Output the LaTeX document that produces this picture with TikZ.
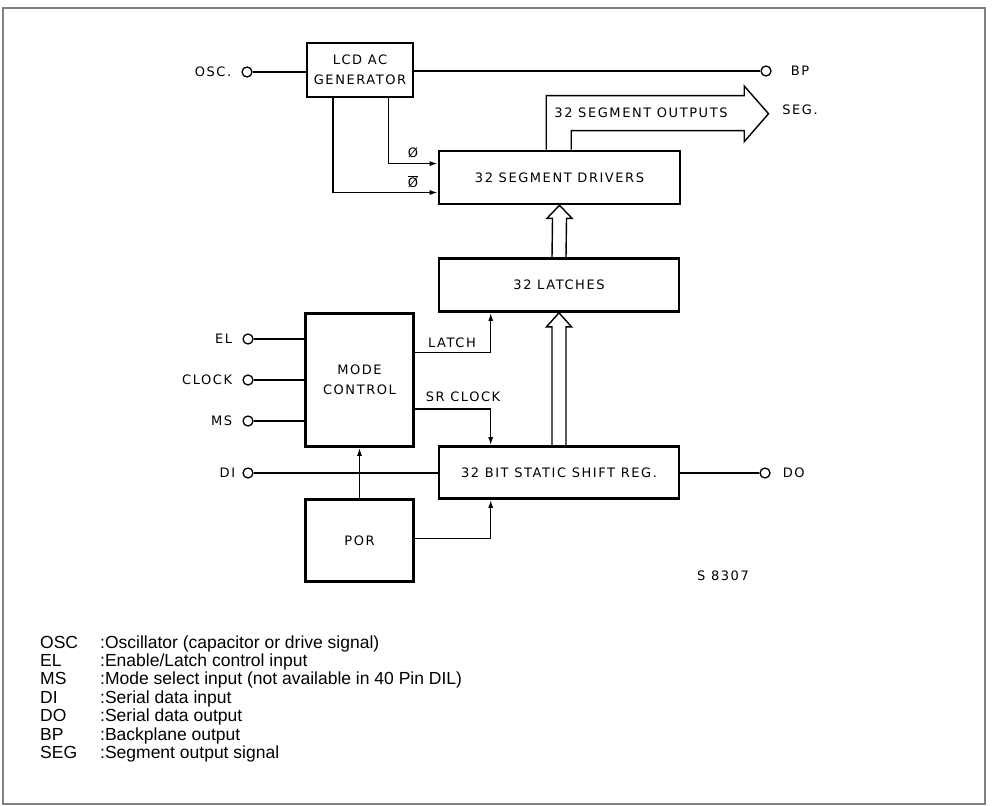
\documentclass[tikz,border=0pt]{standalone}
\usepackage{fontspec}
\setmainfont{Liberation Sans}
\newfontfamily\drawfont[LetterSpace=12]{DejaVu Sans}
\usetikzlibrary{positioning,calc,arrows.meta}
\newcommand\drawlbl{\drawfont\fontsize{13}{20}\selectfont}

\begin{document}
\begin{tikzpicture}[x=1pt, y=-1pt, >={Latex[length=8pt,width=5pt]}]
    \tikzset{
        blk/.style={draw, rectangle, line width=2.6pt, align=center, font=\drawlbl, inner sep=0pt},
        term/.style={draw, circle, line width=1.3pt, minimum size=10pt, inner sep=0pt, fill=white},
        lbl/.style={font=\drawlbl, inner sep=0pt},
        line/.style={draw, line width=1.4pt},
        sig/.style={draw, ->, line width=1.4pt},
        bus/.style={draw, line width=1.4pt, line join=miter},
        legend/.style={font=\fontsize{17.5}{18.4}\selectfont, inner sep=0pt, align=left},
        frame/.style={draw=black!50, line width=1.3pt}
    }
    \useasboundingbox (0,0) rectangle (992,805);
    \path[frame] (3,8) rectangle (985,804);

    % Blocks
    \node[blk, minimum width=106pt, minimum height=54pt] (lcd) at (360,70) {LCD AC\\GENERATOR};
    \node[blk, minimum width=241pt, minimum height=53pt] (drv) at (559.5,177.5) {32 SEGMENT DRIVERS};
    \node[blk, minimum width=240pt, minimum height=53pt] (lat) at (559,285) {32 LATCHES};
    \node[blk, minimum width=240pt, minimum height=52pt] (sr) at (559,472.5) {32 BIT STATIC SHIFT REG.};
    \node[blk, minimum width=108pt, minimum height=133pt] (mode) at (359.5,380) {MODE\\CONTROL};
    \node[blk, minimum width=108pt, minimum height=82pt] (por) at (359.5,540.5) {POR};

    % Pins
    \node[term] (osc) at (247,72) {};
    \node[term] (bp) at (766,71) {};
    \node[term] (el) at (248,339) {};
    \node[term] (clk) at (248,380) {};
    \node[term] (ms) at (248,421) {};
    \node[term] (din) at (248,473) {};
    \node[term] (dout) at (765,473) {};
    \node[lbl, left=10pt of osc] (osclbl) {OSC.};
    \node[lbl, right=19pt of bp] (bplbl) {BP};
    \node[lbl, left=10pt of el] (ellbl) {EL};
    \node[lbl, left=10pt of clk] (clklbl) {CLOCK};
    \node[lbl, left=10pt of ms] (mslbl) {MS};
    \node[lbl, left=7pt of din] (dinlbl) {DI};
    \node[lbl, right=12pt of dout] (doutlbl) {DO};

    % Pin lines
    \path[line] (osc) -- (osc -| lcd.west);
    \path[line] (lcd.east |- bp) -- (bp);
    \path[line] (el) -- (el -| mode.west);
    \path[line] (clk) -- (clk -| mode.west);
    \path[line] (ms) -- (ms -| mode.west);
    \path[line] (din) -- (din -| sr.west);
    \path[line] (sr.east |- dout) -- (dout);

    % Phase outputs of the AC generator
    \path[sig] ($(lcd.south west)!0.76!(lcd.south east)$) |- ($(drv.north west)!0.25!(drv.south west)$);
    \path[sig] ($(lcd.south west)!0.25!(lcd.south east)$) |- ($(drv.north west)!0.77!(drv.south west)$);
    \node[lbl] (phi) at (413,153) {Ø};
    \node[lbl] (phibar) at (413,182) {$\overline{\mbox{Ø}}$};

    % Control signals
    \path[sig] (mode.east |- 0,352.7) -| ($(lat.south west)+(53,0)$);
    \path[sig] (mode.east |- 0,409) -| ($(sr.north west)+(53,0)$);
    \path[sig] (por.east |- 0,538.3) -| ($(sr.south west)+(53,0)$);
    \path[sig] (por) -- (mode);
    \node[lbl] (latchlbl) at (452,343) {LATCH};
    \node[lbl] (srclklbl) at (463,397) {SR CLOCK};

    % Parallel buses
    \path[bus] ($(sr.north)+(-7,0)$) -- ($(lat.south)+(-7,14)$) -- ($(lat.south)+(-12.5,14)$) -- (lat.south)
        -- ($(lat.south)+(12.5,14)$) -- ($(lat.south)+(7,14)$) -- ($(sr.north)+(7,0)$);
    \path[bus] ($(lat.north)+(-7,0)$) -- ($(drv.south)+(-7,13)$) -- ($(drv.south)+(-12.5,13)$) -- (drv.south)
        -- ($(drv.south)+(12.5,13)$) -- ($(drv.south)+(7,13)$) -- ($(lat.north)+(7,0)$);
    \path[bus] ($(drv.north west)+(108.5,0)$) -- ++(0,-54) -- ++(198,0) -- ++(0,-9.7) -- ++(24.3,27.7)
        -- ++(-24.3,28) -- ++(0,-11) -- ++(-173,0) -- ($(drv.north west)+(133.5,0)$);
    \node[lbl] (seglbl) at (641,113) {32 SEGMENT OUTPUTS};
    \node[lbl] (segout) at (800,110) {SEG.};

    \node[lbl] (code) at (723,576) {S 8307};

    % Legend
    \node[legend, anchor=base west] (legend) at (40,648) {\begin{tabular}[t]{@{}p{60pt}@{}l@{}}
        OSC & :Oscillator (capacitor or drive signal)\\
        EL  & :Enable/Latch control input\\
        MS  & :Mode select input (not available in 40 Pin DIL)\\
        DI  & :Serial data input\\
        DO  & :Serial data output\\
        BP  & :Backplane output\\
        SEG & :Segment output signal
    \end{tabular}};
\end{tikzpicture}
\end{document}
